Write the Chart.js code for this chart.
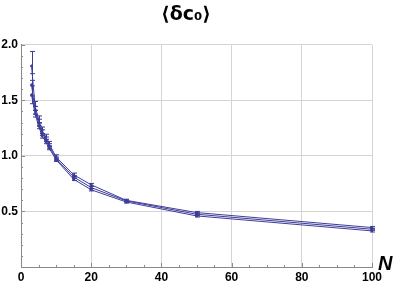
<!DOCTYPE html>
<html>
<head>
<meta charset="utf-8">
<script src="https://cdn.jsdelivr.net/npm/chart.js@4/dist/chart.umd.min.js"></script>
<style>
html,body{margin:0;padding:0;background:#fff;}
#wrap{width:399px;height:285px;position:relative;}
</style>
</head>
<body>
<div id="wrap"><canvas id="c" width="399" height="285"></canvas></div>
<script>
// Data
const N = [3, 4, 5, 6, 7, 8, 10, 15, 20, 30, 50, 100];
const seriesA = [1.81, 1.45, 1.33, 1.23, 1.17, 1.11, 0.99, 0.83, 0.74, 0.60, 0.49, 0.355];
const seriesB = [1.64, 1.41, 1.30, 1.21, 1.15, 1.09, 0.975, 0.81, 0.715, 0.595, 0.475, 0.34];
const seriesC = [1.55, 1.38, 1.27, 1.18, 1.13, 1.07, 0.965, 0.79, 0.695, 0.585, 0.46, 0.325];
const errorA = [0.13, 0.04, 0.03, 0.03, 0.025, 0.02, 0.02, 0.015, 0.012, 0.01, 0.01, 0.01];
const errorB = [0.10, 0.035, 0.03, 0.025, 0.02, 0.02, 0.015, 0.012, 0.01, 0.01, 0.01, 0.01];
const errorC = [0.08, 0.03, 0.025, 0.02, 0.02, 0.015, 0.015, 0.012, 0.01, 0.01, 0.01, 0.01];
const xTicks = [0, 20, 40, 60, 80, 100];
const yTicks = [0.5, 1.0, 1.5, 2.0];
const titleText = '⟨δc₀⟩';
const xAxisLabel = 'N';

const BLUE = '#3d3d99';
const toPts = ys => N.map((n, i) => ({x: n, y: ys[i]}));

const errorBars = {
  id: 'errorBars',
  afterDatasetsDraw(chart) {
    const ctx = chart.ctx, xs = chart.scales.x, ys = chart.scales.y;
    ctx.save();
    ctx.strokeStyle = BLUE;
    ctx.lineWidth = 1;
    chart.data.datasets.forEach(ds => {
      ds.data.forEach((p, i) => {
        const e = ds.errors[i];
        const px = Math.round(xs.getPixelForValue(p.x)) + 0.5;
        const y1 = ys.getPixelForValue(p.y - e), y2 = ys.getPixelForValue(p.y + e);
        ctx.beginPath();
        ctx.moveTo(px, y1); ctx.lineTo(px, y2);
        ctx.moveTo(px - 2.5, y1); ctx.lineTo(px + 2.5, y1);
        ctx.moveTo(px - 2.5, y2); ctx.lineTo(px + 2.5, y2);
        ctx.stroke();
      });
    });
    ctx.restore();
  }
};

const axisDecor = {
  id: 'axisDecor',
  afterDraw(chart) {
    const ctx = chart.ctx, xs = chart.scales.x, ys = chart.scales.y, a = chart.chartArea;
    ctx.save();
    ctx.strokeStyle = '#8a8a8a';
    ctx.lineWidth = 1;
    ctx.beginPath();
    for (let k = 1; k <= 20; k++) {
      const v = k / 10;
      const py = Math.round(ys.getPixelForValue(v)) + 0.5;
      const len = (k % 5 === 0) ? 4 : 2;
      ctx.moveTo(a.left, py); ctx.lineTo(a.left + len, py);
    }
    for (let k = 1; k <= 20; k++) {
      const v = k * 5;
      const px = Math.round(xs.getPixelForValue(v)) + 0.5;
      const len = (v % 20 === 0) ? 4 : 2;
      ctx.moveTo(px, a.bottom); ctx.lineTo(px, a.bottom - len);
    }
    ctx.stroke();
    ctx.fillStyle = '#000';
    ctx.font = 'italic bold 20px "Liberation Sans", Arial, sans-serif';
    ctx.textAlign = 'left';
    ctx.textBaseline = 'alphabetic';
    ctx.fillText(xAxisLabel, a.right + 6, a.bottom + 3);
    ctx.restore();
  }
};

new Chart(document.getElementById('c'), {
  type: 'line',
  data: {
    datasets: [
      {data: toPts(seriesA), errors: errorA},
      {data: toPts(seriesB), errors: errorB},
      {data: toPts(seriesC), errors: errorC}
    ].map(d => Object.assign(d, {
      borderColor: BLUE, backgroundColor: BLUE, borderWidth: 1,
      pointRadius: 1, pointHoverRadius: 1, tension: 0, fill: false
    }))
  },
  options: {
    responsive: false,
    animation: false,
    events: [],
    layout: {padding: {left: 0, right: 27, top: 0, bottom: 0}},
    plugins: {
      legend: {display: false},
      tooltip: {enabled: false},
      title: {
        display: true, text: titleText, color: '#000',
        font: {family: '"DejaVu Sans", sans-serif', size: 19, weight: 'bold'},
        padding: {top: 4, bottom: 18}
      }
    },
    scales: {
      x: {
        type: 'linear', min: 0, max: 100,
        afterBuildTicks: s => { s.ticks = xTicks.map(v => ({value: v})); },
        afterFit: s => { s.height = 18; },
        grid: {
          drawTicks: false,
          color: c => (c.tick && c.tick.value === 0) ? 'rgba(0,0,0,0)' : '#d4d4d4',
          lineWidth: 1
        },
        border: {display: true, color: '#8a8a8a', width: 1},
        ticks: {
          color: '#000', padding: 3, maxRotation: 0,
          font: {family: '"Liberation Sans", Arial, sans-serif', size: 12, weight: 'bold'},
          callback: v => String(v)
        }
      },
      y: {
        type: 'linear', min: 0, max: 2.0,
        afterBuildTicks: s => { s.ticks = [0].concat(yTicks).map(v => ({value: v})); },
        afterFit: s => { s.width = 21; },
        grid: {
          drawTicks: false,
          color: c => (c.tick && c.tick.value === 0) ? 'rgba(0,0,0,0)' : '#d4d4d4',
          lineWidth: 1
        },
        border: {display: true, color: '#8a8a8a', width: 1},
        ticks: {
          color: '#000', padding: 3,
          font: {family: '"Liberation Sans", Arial, sans-serif', size: 12, weight: 'bold'},
          callback: v => v === 0 ? '' : v.toFixed(1)
        }
      }
    }
  },
  plugins: [errorBars, axisDecor]
});
</script>
</body>
</html>
